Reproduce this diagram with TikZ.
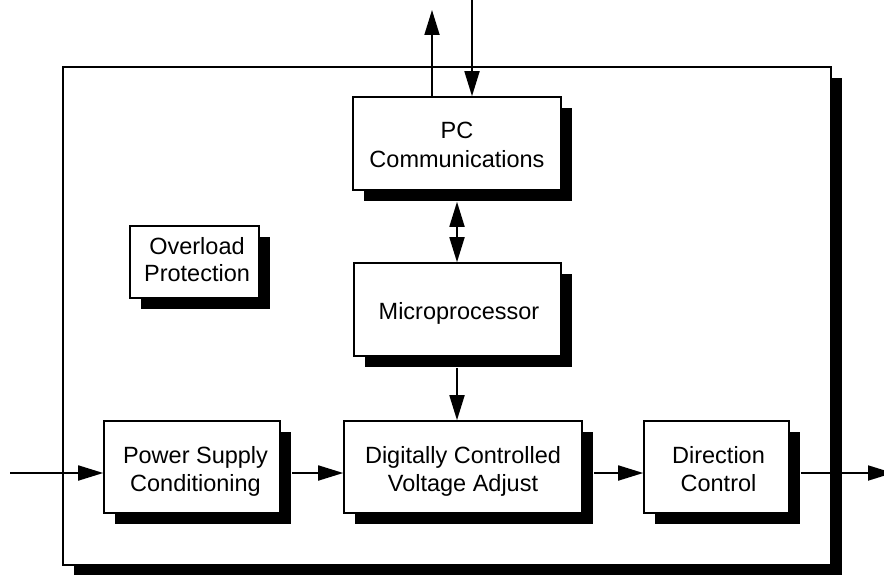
\documentclass[tikz,border=0pt]{standalone}
\usepackage{fontspec}
\setmainfont{Liberation Sans}
\usetikzlibrary{arrows.meta,shadows,calc}
% invisible struts that fix the height of a first line and the depth of a last line
\newcommand\firstline[1]{\rule{0pt}{#1}}
\newcommand\lastline{\rule[-5pt]{0pt}{5pt}}
\begin{document}
\begin{tikzpicture}[x=1pt,y=-1pt,
  blk/.style={draw, fill=white, line width=1.6pt, align=center,
    font=\fontsize{23.5}{27.2}\selectfont, inner sep=0pt,
    drop shadow={shadow xshift=11pt, shadow yshift=-11pt, fill=black, opacity=1}},
  arr/.style={line width=1.8pt, -{Triangle[length=25pt,width=15pt]}},
  arrboth/.style={line width=1.8pt, {Triangle[length=25pt,width=15pt]}-{Triangle[length=25pt,width=15pt]}}]
\useasboundingbox (0,0) rectangle (884,575);
\fill[white] (0,0) rectangle (884,575);

% enclosing unit
\node[blk, minimum width=768, minimum height=498] (unit) at (447,316) {};

% function blocks
\node[blk, minimum width=208, minimum height=93, font=\fontsize{23.5}{29}\selectfont] (pc) at (457,143.5)
  {\firstline{23.6pt}PC\\Communications\lastline};
\node[blk, minimum width=129, minimum height=72] (ovl) at (194.5,262)
  {\firstline{17.4pt}\hspace*{5pt}Overload\\\hspace*{5pt}Protection\lastline};
\node[blk, minimum width=207, minimum height=93] (mcu) at (457.5,309.5)
  {\firstline{24.6pt}\hspace*{3pt}Microprocessor\lastline};
\node[blk, minimum width=176, minimum height=92] (psu) at (192,467)
  {\firstline{26pt}\hspace*{7pt}Power Supply\\\hspace*{7pt}Conditioning\lastline};
\node[blk, minimum width=238, minimum height=92] (dcva) at (463,467)
  {\firstline{26pt}Digitally Controlled\\Voltage Adjust\lastline};
\node[blk, minimum width=145, minimum height=92] (dir) at (716.5,467)
  {\firstline{26pt}\hspace*{4pt}Direction\\\hspace*{4pt}Control\lastline};

% external ends
\coordinate (hostout) at (432,10);
\coordinate (hostin) at (472,0);
\coordinate (pwrin) at (10,473);
\coordinate (motorout) at (893,473);

% PC link
\draw[arr] (pc.north -| hostout) -- (hostout);
\draw[arr] (hostin) -- (pc.north -| hostin);
\draw[arrboth] ($(pc.south)+(0,11)$) -- (mcu.north -| pc.south);
\draw[arr] ($(mcu.south -| pc.south)+(0,11)$) -- (dcva.north -| pc.south);

% power path
\draw[arr] (pwrin) -- (psu.west |- pwrin);
\draw[arr] ($(psu.east |- pwrin)+(11,0)$) -- (dcva.west |- pwrin);
\draw[arr] ($(dcva.east |- pwrin)+(11,0)$) -- (dir.west |- pwrin);
\draw[arr] ($(dir.east |- pwrin)+(11,0)$) -- (motorout);
\end{tikzpicture}
\end{document}
